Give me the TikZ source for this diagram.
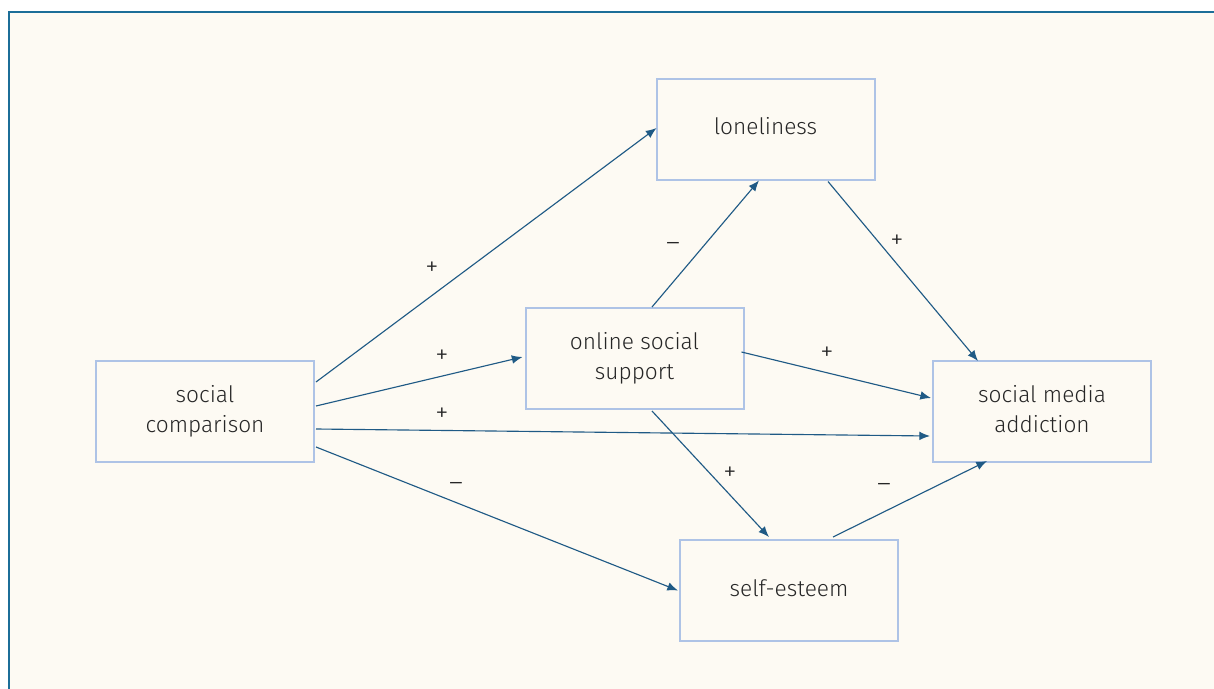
\documentclass[tikz,border=0pt]{standalone}
\usepackage{fontspec}
\setmainfont{Fira Sans}[UprightFont=* Light]
\usetikzlibrary{arrows.meta,calc}
\definecolor{bgcream}{HTML}{FDFAF3}
\definecolor{frameblue}{HTML}{1C6E98}
\definecolor{boxblue}{HTML}{AEC3E6}
\definecolor{arrowblue}{HTML}{1F5A85}
\definecolor{textgrey}{HTML}{262626}
\newcommand{\boxlines}[1]{\raisebox{2.5pt}{\begin{tabular}{@{}c@{}}#1\end{tabular}}}
\tikzset{
  varbox/.style={draw=boxblue, line width=1.5pt, fill=bgcream, minimum width=163.5pt, minimum height=75.75pt, inner sep=0pt, outer sep=0pt, text=textgrey, font=\fontsize{17}{22}\selectfont},
  link/.style={draw=arrowblue, line width=0.85pt, -{Latex[length=8pt,width=6.5pt]}},
  sign/.style={text=textgrey, font=\fontsize{20}{22}\selectfont, inner sep=0pt}
}
\begin{document}
\begin{tikzpicture}[x=0.75pt,y=-0.75pt]
\useasboundingbox (0,0) rectangle (1214,689);
\fill[white] (0,0) rectangle (1214,689);
\fill[bgcream] (8.5,12) rectangle (1214,689);
\draw[frameblue, line width=1.5pt] (8.5,689) -- (8.5,12) -- (1214,12);

\node[varbox] (lon) at (765.5,129) {\boxlines{loneliness}};
\node[varbox] (sc) at (205,411.5) {\boxlines{social\\comparison}};
\node[varbox] (oss) at (634.5,358.5) {\boxlines{online social\\support}};
\node[varbox] (sma) at (1042,411.5) {\boxlines{social media\\addiction}};
\node[varbox] (se) at (789,590.5) {\boxlines{self-esteem}};

\draw[link] ([shift={(2,-29.5)}]sc.east) -- ([shift={(0,-1)}]lon.west);
\draw[link] ([shift={(2,-5.5)}]sc.east) -- ([shift={(-3,-1.5)}]oss.west);
\draw[link] ([shift={(2,17.5)}]sc.east) -- ([shift={(-3,24.5)}]sma.west);
\draw[link] ([shift={(2,35.5)}]sc.east) -- ([shift={(-2,0)}]se.west);
\draw[link] ([shift={(17.5,-1)}]oss.north) -- ([shift={(-6.5,1)}]lon.south);
\draw[link] ([shift={(62.5,2)}]lon.south) -- ([shift={(-64,0)}]sma.north);
\draw[link] ([shift={(-2,-6.5)}]oss.east) -- ([shift={(-2,-13.5)}]sma.west);
\draw[link] ([shift={(17.5,2)}]oss.south) -- ([shift={(-20,-3)}]se.north);
\draw[link] ([shift={(44,-3)}]se.north) -- ([shift={(-55,-1)}]sma.south);

\node[sign] (l1) at (432,269) {+};
\node[sign] (l2) at (442,357) {+};
\node[sign] (l3) at (442,415) {+};
\node[sign] (l4) at (456,487) {\textendash};
\node[sign] (l5) at (673,247) {\textendash};
\node[sign] (l6) at (897,242) {+};
\node[sign] (l7) at (827,354) {+};
\node[sign] (l8) at (730,474) {+};
\node[sign] (l9) at (884,488) {\textendash};
\end{tikzpicture}
\end{document}
